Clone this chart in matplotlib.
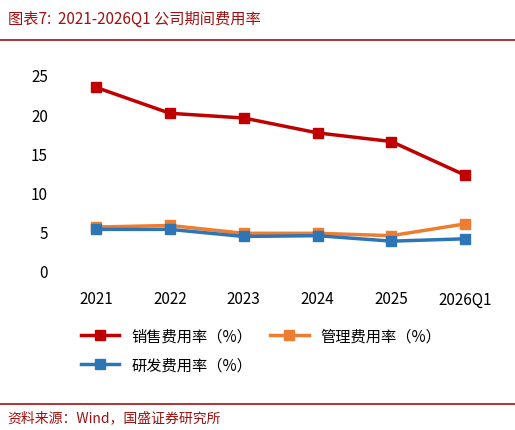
import matplotlib
matplotlib.use("Agg")
import matplotlib.pyplot as plt
from matplotlib.lines import Line2D

plt.rcParams['font.family'] = ['Noto Sans CJK SC', 'DejaVu Sans']

years = ['2021', '2022', '2023', '2024', '2025', '2026Q1']
sales = [23.4, 20.1, 19.5, 17.6, 16.5, 12.2]
admin = [5.6, 5.8, 4.8, 4.8, 4.5, 6.0]
rnd = [5.3, 5.3, 4.4, 4.5, 3.8, 4.1]

fig = plt.figure(figsize=(5.15, 4.31), dpi=100)
ax = fig.add_axes([0.115, 0.369, 0.86, 0.455])

x = range(len(years))
ax.plot(x, sales, color='#C00000', lw=2.5, marker='s', ms=7)
ax.plot(x, admin, color='#ED7D31', lw=2.5, marker='s', ms=7)
ax.plot(x, rnd, color='#2E75B6', lw=2.5, marker='s', ms=7)

ax.set_ylim(0, 25)
ax.set_yticks([0, 5, 10, 15, 20, 25])
ax.set_xlim(-0.5, 5.5)
ax.set_xticks(list(x))
ax.set_xticklabels(years)
for s in ax.spines.values():
    s.set_visible(False)
ax.tick_params(length=0, labelsize=11, pad=8)
ax.tick_params(axis='x', pad=14)

# column-major order so rows read: sales, admin / rnd
handles = [Line2D([0], [0], color=c, lw=2.5, marker='s', ms=7) for c in ['#C00000', '#2E75B6', '#ED7D31']]
labels = ['销售费用率（%）', '研发费用率（%）', '管理费用率（%）']
fig.legend(handles, labels, loc='upper left', bbox_to_anchor=(0.13, 0.27), ncol=2,
           frameon=False, fontsize=11, handlelength=2.5, columnspacing=1.2, labelspacing=0.8)

fig.text(0.015, 0.955, '图表7:  2021-2026Q1 公司期间费用率', color='#A01010', fontsize=11,
         style='italic', va='center')
fig.add_artist(Line2D([0.0, 1.0], [0.905, 0.905], color='#A01010', lw=1.2))
fig.add_artist(Line2D([0.0, 1.0], [0.06, 0.06], color='#A01010', lw=1.2))
fig.text(0.015, 0.03, '资料来源：Wind，国盛证券研究所', color='#A01010', fontsize=10,
         style='italic', va='center')

fig.savefig('out.png', dpi=100)
